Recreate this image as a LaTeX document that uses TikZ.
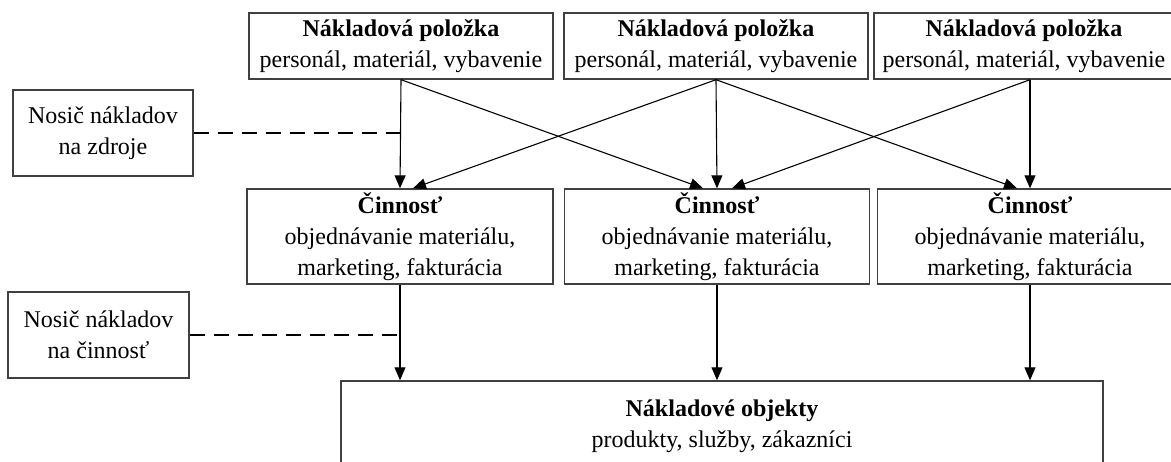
\documentclass[tikz,border=0pt]{standalone}
\usepackage{fontspec}
\setmainfont{Liberation Serif}
\usetikzlibrary{arrows.meta,calc}
\begin{document}
\begin{tikzpicture}[x=1pt,y=-1pt,
    box/.style={draw=black!75,line width=1.4pt,align=center,inner sep=0pt,
      font=\fontsize{24}{31}\selectfont},
    arr/.style={-{Triangle[length=13pt,width=11pt]},line width=1.1pt},
    carrier/.style={dash pattern=on 15pt off 9pt,line width=1.1pt}]
    \useasboundingbox (0,0) rectangle (1171,461);
    \clip (0,0) rectangle (1171,461);

    \node[box,minimum width=304,minimum height=66] (T1) at (401,46) {\textbf{Nákladová položka}\\personál, materiál, vybavenie};
    \node[box,minimum width=304,minimum height=66] (T2) at (716,46) {\textbf{Nákladová položka}\\personál, materiál, vybavenie};
    \node[box,minimum width=300,minimum height=66] (T3) at (1024,46) {\textbf{Nákladová položka}\\personál, materiál, vybavenie};

    \node[box,minimum width=306,minimum height=95] (M1) at (400,236.5) {\textbf{Činnosť}\\objednávanie materiálu,\\marketing, fakturácia};
    \node[box,minimum width=305,minimum height=95] (M2) at (717,236.5) {\textbf{Činnosť}\\objednávanie materiálu,\\marketing, fakturácia};
    \node[box,minimum width=305,minimum height=95] (M3) at (1030,236.5) {\textbf{Činnosť}\\objednávanie materiálu,\\marketing, fakturácia};

    \node[box,minimum width=762,minimum height=90] (O) at (722,426) {\textbf{Nákladové objekty}\\produkty, služby, zákazníci};

    \node[box,minimum width=180,minimum height=86] (L1) at (103,133) {Nosič nákladov\\na zdroje};
    \node[box,minimum width=181,minimum height=86] (L2) at (98.5,335) {Nosič nákladov\\na činnosť};

    \coordinate (T3out) at ($(T3.south)+(6,0)$);

    \draw[arr] (T1.south) -- (M1.north);
    \draw[arr] (T1.south) -- ($(M2.north)+(-14,0)$);
    \draw[arr] (T2.south) -- ($(M1.north)+(13,0)$);
    \draw[arr] (T2.south) -- (M2.north);
    \draw[arr] (T2.south) -- ($(M3.north)+(-13,0)$);
    \draw[arr] (T3out) -- ($(M2.north)+(15,0)$);
    \draw[arr] (T3out) -- (M3.north);

    \draw[arr] (M1.south) -- (M1.south |- O.north);
    \draw[arr] (M2.south) -- (M2.south |- O.north);
    \draw[arr] (M3.south) -- (M3.south |- O.north);

    \draw[carrier] (L1.east) -- (L1.east -| M1.north);
    \draw[carrier] (L2.east) -- (L2.east -| M1.south);
\end{tikzpicture}
\end{document}
